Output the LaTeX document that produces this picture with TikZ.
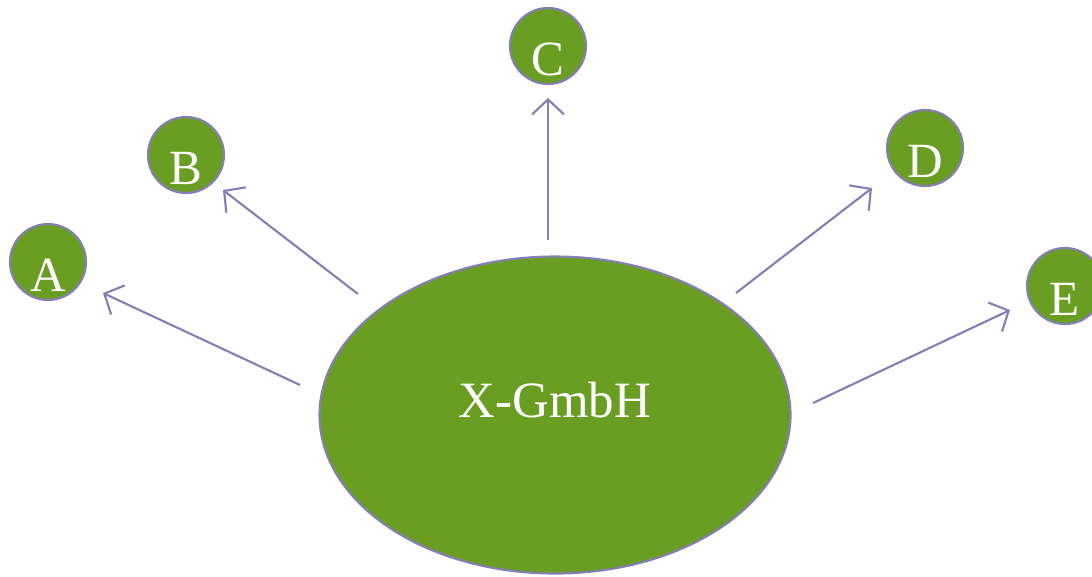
\documentclass[tikz,border=0pt]{standalone}
\usepackage{fontspec}
\setmainfont{Liberation Serif}
\usetikzlibrary{shapes.geometric,arrows.meta}
\definecolor{leaf}{RGB}{106,158,34}
\definecolor{lilac}{RGB}{132,126,182}
\begin{document}
\begin{tikzpicture}[
        partner/.style={circle, fill=leaf, draw=lilac, line width=0.6pt, minimum size=0.76cm, inner sep=0pt,
            text=white, font=\fontsize{14}{14}\selectfont, text height=0.58cm, text depth=0pt},
        link/.style={draw=lilac, line width=0.6pt, -{Straight Barb[length=1.5mm, width=3.2mm]}}
    ]
        \useasboundingbox (0,0) rectangle (10.92,5.76);

        % Company
        \node[ellipse, fill=leaf, draw=lilac, line width=0.6pt, minimum width=4.71cm, minimum height=3.17cm,
            inner sep=0pt, text=white, font=\fontsize{14.5}{14.5}\selectfont, text height=0.34cm, text depth=0.30cm]
            (firm) at (5.55,1.61) {X-GmbH};

        % Partners
        \node[partner] (a) at (0.48,3.14) {A};
        \node[partner] (b) at (1.86,4.21) {B};
        \node[partner] (c) at (5.48,5.30) {C};
        \node[partner] (d) at (9.25,4.28) {D};
        \node[partner] (e) at (10.65,2.90) {E};

        % Arrow ends
        \coordinate (fa) at (3.00,1.91);
        \coordinate (ta) at (1.03,2.83);
        \coordinate (fb) at (3.58,2.82);
        \coordinate (tb) at (2.23,3.86);
        \coordinate (fc) at (5.48,3.36);
        \coordinate (tc) at (5.48,4.78);
        \coordinate (fd) at (7.36,2.83);
        \coordinate (td) at (8.72,3.88);
        \coordinate (fe) at (8.13,1.73);
        \coordinate (te) at (10.10,2.66);

        % Arrows
        \draw[link] (fa) -- (ta);
        \draw[link] (fb) -- (tb);
        \draw[link] (fc) -- (tc);
        \draw[link] (fd) -- (td);
        \draw[link] (fe) -- (te);
    \end{tikzpicture}
\end{document}
